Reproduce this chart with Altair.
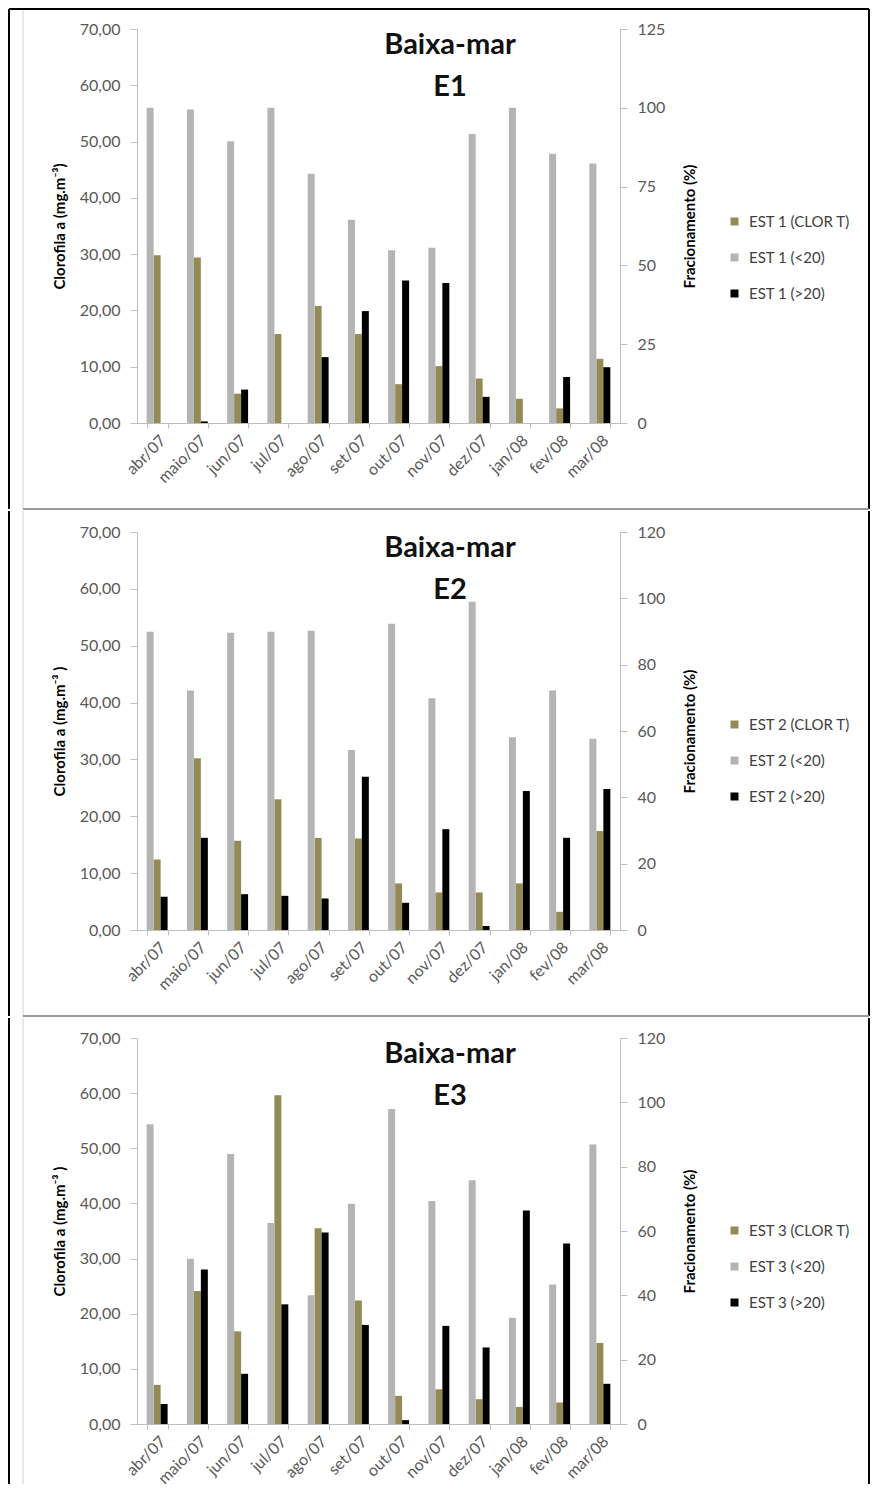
import altair as alt
import pandas as pd

months = ["abr/07", "maio/07", "jun/07", "jul/07", "ago/07", "set/07",
          "out/07", "nov/07", "dez/07", "jan/08", "fev/08", "mar/08"]

# EST 1 — chlorophyll total (mg.m-3, left axis) and fractions (% , right axis)
est1_clor = [29.8, 29.4, 5.2, 15.8, 20.8, 15.8, 6.9, 10.1, 7.9, 4.3, 2.6, 11.4]
est1_lt20 = [100.0, 99.5, 89.4, 100.0, 79.1, 64.5, 54.8, 55.6, 91.7, 100.0, 85.4, 82.3]
est1_gt20 = [0.0, 0.5, 10.6, 0.0, 20.9, 35.5, 45.2, 44.4, 8.3, 0.0, 14.6, 17.7]

# EST 2
est2_clor = [12.4, 30.2, 15.7, 23.0, 16.2, 16.1, 8.2, 6.6, 6.6, 8.2, 3.2, 17.4]
est2_lt20 = [89.9, 72.2, 89.6, 89.9, 90.2, 54.3, 92.3, 69.9, 99.0, 58.1, 72.2, 57.7]
est2_gt20 = [10.0, 27.8, 10.8, 10.3, 9.5, 46.2, 8.2, 30.4, 1.2, 41.9, 27.8, 42.5]

# EST 3
est3_clor = [7.1, 24.1, 16.8, 59.6, 35.5, 22.4, 5.1, 6.3, 4.5, 3.1, 3.9, 14.7]
est3_lt20 = [93.2, 51.4, 83.9, 62.5, 40.0, 68.5, 97.9, 69.3, 75.8, 33.0, 43.4, 86.9]
est3_gt20 = [6.2, 48.0, 15.6, 37.2, 59.5, 30.8, 1.2, 30.5, 23.8, 66.4, 56.1, 12.5]

left_ticks = [0, 10, 20, 30, 40, 50, 60, 70]
right_ticks_1 = [0, 25, 50, 75, 100, 125]
right_ticks_23 = [0, 20, 40, 60, 80, 100, 120]

OLIVE = "#948A54"
GRAY = "#B4B4B4"
BLACK = "#000000"
FONT = "Lato"
ONE = pd.DataFrame({"k": [0]})


def build_df(n, clor, lt, gt):
    rows = []
    for m, c, a, b in zip(months, clor, lt, gt):
        rows.append({"month": m, "slot": "CLOR T", "series": f"EST {n} (CLOR T)", "value": c})
        rows.append({"month": m, "slot": "<20", "series": f"EST {n} (<20)", "value": a})
        rows.append({"month": m, "slot": ">20", "series": f"EST {n} (>20)", "value": b})
    return pd.DataFrame(rows)


def rule(color, width, x, y, x2=None, y2=None):
    enc = dict(x=alt.value(x), y=alt.value(y))
    if x2 is not None:
        enc["x2"] = alt.value(x2)
    if y2 is not None:
        enc["y2"] = alt.value(y2)
    return alt.Chart(ONE).mark_rule(color=color, strokeWidth=width).encode(**enc)


RIGHT_EDGE = 732


def panel(n, clor, lt, gt, rticks, height, ytitle, top, bottom, top_line, bottom_line):
    df = build_df(n, clor, lt, gt)
    names = [f"EST {n} (CLOR T)", f"EST {n} (<20)", f"EST {n} (>20)"]
    color = alt.Color(
        "series:N",
        scale=alt.Scale(domain=names, range=[OLIVE, GRAY, BLACK]),
        legend=alt.Legend(title=None, orient="none", legendX=590, legendY=185,
                          symbolType="square", symbolSize=64, symbolStrokeWidth=0,
                          rowPadding=20, padding=0, labelOffset=7,
                          labelFont=FONT, labelFontSize=15, labelColor="#404040"),
    )
    x = alt.X(
        "month:N", sort=months,
        scale=alt.Scale(domain=months, paddingInner=0.48, paddingOuter=0.24),
        axis=alt.Axis(title=None, labelAngle=-45, tickBand="extent", tickSize=5,
                      labelPadding=4, labelFontSize=16, labelColor="#595959"),
    )
    xo = alt.XOffset("slot:N", scale=alt.Scale(domain=["<20", "CLOR T", ">20"],
                                               paddingInner=0, paddingOuter=0))
    base = alt.Chart(df)
    olive = base.transform_filter(alt.datum.slot == "CLOR T").mark_bar().encode(
        x=x, xOffset=xo, color=color,
        y=alt.Y("value:Q", scale=alt.Scale(domain=[0, 70], nice=False, zero=True),
                axis=alt.Axis(orient="left", values=left_ticks, title=ytitle,
                              labelExpr="replace(format(datum.value, '.2f'), '.', ',')",
                              tickSize=7, labelPadding=10, labelFontSize=16,
                              labelColor="#595959", labelFlush=False,
                              titleFontSize=15, titlePadding=12)),
    )
    rmax = rticks[-1]
    frac = base.transform_filter(alt.datum.slot != "CLOR T").mark_bar().encode(
        x=x, xOffset=xo, color=color,
        y=alt.Y("value:Q", scale=alt.Scale(domain=[0, rmax], nice=False, zero=True),
                axis=alt.Axis(orient="right", values=rticks, title="Fracionamento (%)",
                              format="d", tickSize=7, labelPadding=10, labelFontSize=16,
                              labelColor="#595959", labelFlush=False,
                              titleFontSize=15, titlePadding=18, titleAngle=270,
                              titleBaseline="top")),
    )
    t1 = alt.Chart(ONE).mark_text(text="Baixa-mar", font=FONT, fontSize=29, fontWeight="bold",
                                  align="center", baseline="alphabetic", color="#111111").encode(
        x=alt.value(313), y=alt.value(25))
    t2 = alt.Chart(ONE).mark_text(text=f"E{n}", font=FONT, fontSize=29, fontWeight="bold",
                                  align="center", baseline="alphabetic", color="#111111").encode(
        x=alt.value(313), y=alt.value(67))
    deco = [
        rule("#d0d0d0", 1, -114, top, y2=bottom),
        rule(BLACK, 2, -128, top, y2=bottom),
        rule(BLACK, 2, RIGHT_EDGE, top, y2=bottom),
    ]
    if top_line:
        deco.append(rule(BLACK, 2, -128, top, x2=RIGHT_EDGE))
    if bottom_line:
        deco.append(rule("#9a9a9a", 2, -114, bottom, x2=RIGHT_EDGE))
    return alt.layer(*deco, olive, frac, t1, t2).resolve_scale(y="independent").properties(
        width=483, height=height)


p1 = panel(1, est1_clor, est1_lt20, est1_gt20, right_ticks_1, 394,
           "Clorofila a (mg.m⁻³)", -20, 480, True, True)
p2 = panel(2, est2_clor, est2_lt20, est2_gt20, right_ticks_23, 398,
           "Clorofila a (mg.m⁻³ )", -21, 484, False, True)
p3 = panel(3, est3_clor, est3_lt20, est3_gt20, right_ticks_23, 386,
           "Clorofila a (mg.m⁻³ )", -20, 446, False, False)

chart = alt.vconcat(p1, p2, p3, spacing=0, padding=0).resolve_scale(
    color="independent", y="independent", x="independent", xOffset="independent"
).configure_view(stroke=None).configure_axis(
    labelFont=FONT, titleFont=FONT, domainColor="#BFBFBF", tickColor="#BFBFBF",
    titleColor="#000000", titleFontWeight="bold", grid=False
)

chart.save("out.html", embed_options={"renderer": "svg", "actions": False})
